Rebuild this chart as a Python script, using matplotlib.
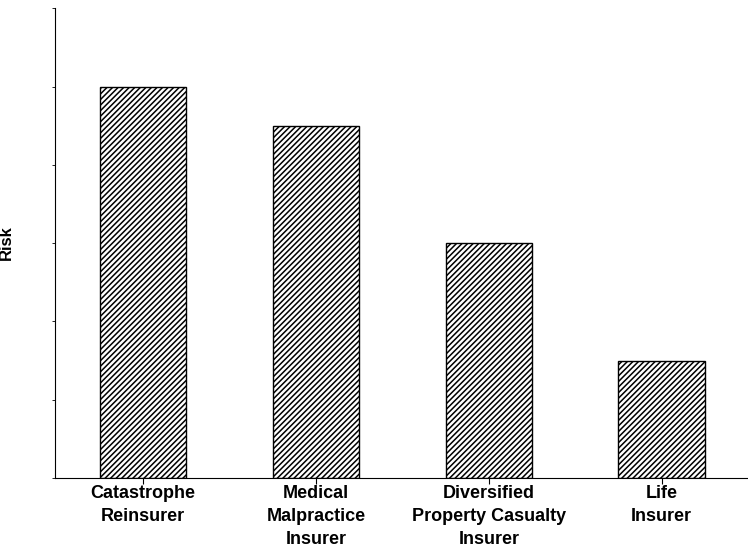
import numpy as np
import matplotlib.pyplot as plt

categories = ['Catastrophe\nReinsurer', 'Medical\nMalpractice\nInsurer',
              'Diversified\nProperty Casualty\nInsurer', 'Life\nInsurer']
risk = [5.0, 4.5, 3.0, 1.5]

plt.rcParams['font.family'] = ['Liberation Sans', 'DejaVu Sans']
plt.rcParams['hatch.linewidth'] = 1.1

fig = plt.figure(figsize=(7.48, 5.5), dpi=100)
ax = fig.add_axes([0.0735, 0.131, 0.9265, 0.854])

x = np.arange(len(categories))
ax.bar(x, risk, width=0.5, color='white', edgecolor='black',
       hatch='//////', linewidth=1.0)

ax.set_xlim(-0.51, 3.5)
ax.set_ylim(0, 6)
ax.set_xticks(x)
ax.set_xticklabels(categories, fontsize=13, fontweight='bold',
                   linespacing=1.45)
ax.set_yticks(np.arange(0, 7))
ax.set_yticklabels([])
ax.tick_params(axis='y', length=2, width=0.6)
ax.tick_params(axis='x', length=4, width=0.8, pad=1)
ax.set_ylabel('Risk', fontsize=12, fontweight='bold', labelpad=24)

ax.spines['top'].set_visible(False)
ax.spines['right'].set_visible(False)

fig.savefig('out.png', dpi=100)
